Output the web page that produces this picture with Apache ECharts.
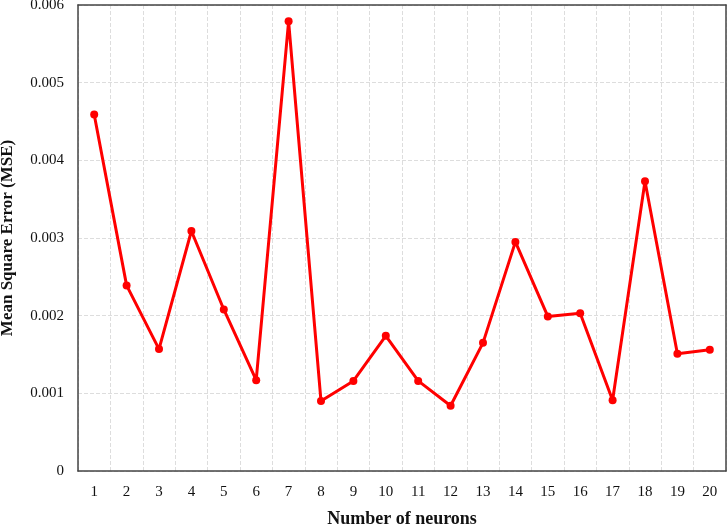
<!DOCTYPE html>
<html>
<head>
<meta charset="utf-8">
<script src="https://cdn.jsdelivr.net/npm/echarts@6/dist/echarts.min.js"></script>
<style>html,body{margin:0;padding:0;background:#fff}#c{width:727px;height:526px}</style>
</head>
<body>
<div id="c"></div>
<script>
const categories = ['1','2','3','4','5','6','7','8','9','10','11','12','13','14','15','16','17','18','19','20'];
const mseValues = [0.00459,0.00239,0.00157,0.00309,0.00208,0.00117,0.00579,0.00090,0.00116,0.00174,0.00116,0.00084,0.00165,0.00295,0.00199,0.00203,0.00091,0.00373,0.00151,0.00156];
const yTicks = [0, 0.001, 0.002, 0.003, 0.004, 0.005, 0.006];

const chart = echarts.init(document.getElementById('c'));
const font = 'Liberation Serif, Times New Roman, serif';
const frame = { color: '#444', width: 1.5 };
chart.setOption({
  animation: false,
  grid: { left: 78, right: 1, top: 5, bottom: 55, containLabel: false, outerBoundsMode: 'none' },
  xAxis: [{
    type: 'category', data: categories, boundaryGap: true,
    name: 'Number of neurons', nameLocation: 'middle', nameGap: 39,
    nameTextStyle: { fontFamily: font, fontWeight: 'bold', fontSize: 18, color: '#111' },
    axisLine: { lineStyle: frame },
    axisTick: { show: false },
    axisLabel: { fontFamily: font, fontSize: 15, color: '#111', margin: 14 },
    splitLine: { show: true, lineStyle: { color: '#ddd', type: 'dashed' } },
    z: 1
  }, {
    type: 'category', data: categories, position: 'top', z: 10,
    axisLine: { show: true, onZero: false, lineStyle: frame }, axisTick: { show: false }, axisLabel: { show: false }, splitLine: { show: false }
  }],
  yAxis: [{
    type: 'value', min: yTicks[0], max: yTicks[yTicks.length-1], interval: 0.001,
    name: 'Mean Square Error (MSE)', nameLocation: 'middle', nameGap: 62,
    nameTextStyle: { fontFamily: font, fontWeight: 'bold', fontSize: 17, color: '#111' },
    axisLine: { show: true, lineStyle: frame },
    axisTick: { show: false },
    axisLabel: { fontFamily: font, fontSize: 15, color: '#111', margin: 14, formatter: v => String(+v.toFixed(3)) },
    splitLine: { show: true, lineStyle: { color: '#ddd', type: 'dashed' } },
    z: 1
  }, {
    type: 'value', min: yTicks[0], max: yTicks[yTicks.length-1], interval: 0.001, position: 'right', z: 10,
    axisLine: { show: true, onZero: false, lineStyle: frame }, axisTick: { show: false }, axisLabel: { show: false }, splitLine: { show: false }
  }],
  series: [{
    type: 'line', data: mseValues, z: 5,
    lineStyle: { color: '#ff0000', width: 3 },
    itemStyle: { color: '#ff0000' },
    symbol: 'circle', symbolSize: 8
  }]
});
</script>
</body>
</html>
